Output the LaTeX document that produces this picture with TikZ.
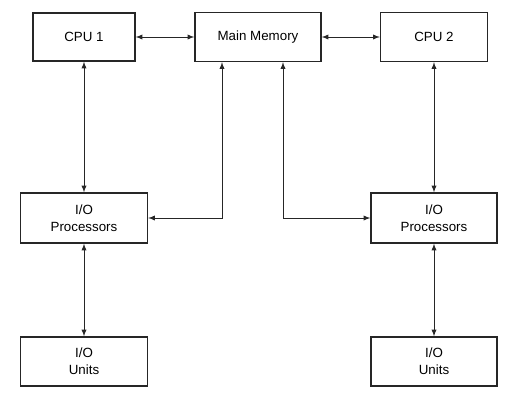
\documentclass[tikz,border=0pt]{standalone}
\usepackage{fontspec}
\setmainfont{Liberation Sans}
\usepackage{tikz}
\usetikzlibrary{arrows}

\begin{document}
\begin{tikzpicture}[x=0.75pt,y=-0.75pt,>=latex,
        unitbox/.style={draw=black!85, line width=1pt, align=center, inner sep=0pt,
                font=\fontsize{10}{12.5}\selectfont},
        link/.style={<->, black!85, line width=0.75pt}]
        \useasboundingbox (0,0) rectangle (518,411);

        \node[unitbox, minimum width=76.5pt, minimum height=36pt] (cpuone) at (84,37) {CPU 1};
        \node[unitbox, minimum width=94.5pt, minimum height=36.75pt] (mainmem) at (258,37) {Main Memory};
        \node[unitbox, minimum width=80.25pt, minimum height=36.75pt] (cputwo) at (434,37) {CPU 2};

        \node[unitbox, minimum width=95.25pt, minimum height=37.5pt] (iopl) at (84,218) {I/O\\Processors};
        \node[unitbox, minimum width=94.5pt, minimum height=37.5pt] (iopr) at (434,218) {I/O\\Processors};

        \node[unitbox, minimum width=95.25pt, minimum height=36.75pt] (iounitl) at (84,361.5) {I/O\\Units};
        \node[unitbox, minimum width=94.5pt, minimum height=36.75pt] (iounitr) at (434,361.5) {I/O\\Units};

        \draw [link] (cpuone) -- (mainmem);
        \draw [link] (mainmem) -- (cputwo);

        \draw [link] (cpuone) -- (iopl);
        \draw [link] (cputwo) -- (iopr);
        \draw [link] ([xshift=-27pt]mainmem.south) |- (iopl.east);
        \draw [link] ([xshift=18.75pt]mainmem.south) |- (iopr.west);

        \draw [link] (iopl) -- (iounitl);
        \draw [link] (iopr) -- (iounitr);
        \end{tikzpicture}
\end{document}
